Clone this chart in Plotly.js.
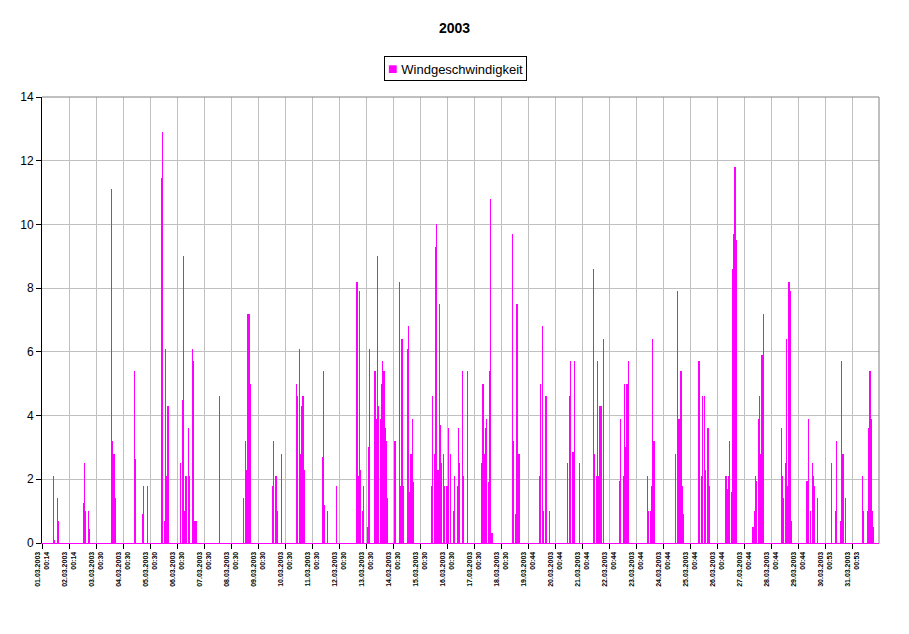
<!DOCTYPE html>
<html>
<head>
<meta charset="utf-8">
<script src="https://cdn.plot.ly/plotly-3.0.1.min.js"></script>
<style>html,body{margin:0;padding:0;background:#fff;}#chart{width:909px;height:634px;}</style>
</head>
<body>
<div id="chart"></div>
<script>
// Hours after the first reading of 01.03.2003 (one tick per day = 24 h)
const hours = [
  10,10.5,11.5,13.5,14,15,
  36.5,37.5,38,39,41,42,
  61.5,62,63,64,65,
  82.5,83.5,89,90,93.5,94,
  106.5,107.5,108.5,109.5,110,111,112,
  123.5,124.5,125.5,126,127,128,130,130.5,131.5,133.5,134,135,136,137,
  157.5,158,
  179.5,180.5,181.5,182,183,184,185,
  204.5,205.5,206,208,209,212.5,
  226,226.5,227.5,228.5,229.5,230,231,232,233,
  249,250,250.5,251.5,253.5,254,261.5,262,
  280,281,282,282.5,283.5,284.5,285.5,286,
  289,290,290.5,291.5,
  296,297,298,298.5,299.5,300.5,301.5,302,303,304,305,306,306.5,307.5,
  313,314,317.5,318,319,320,321,
  324.5,325.5,326,327,328,329,330,
  346,346.5,347.5,348.5,349.5,350,351,352,353,354,354.5,355.5,356.5,357.5,
  360,361,363.5,366,367,369,370,370.5,371.5,
  373.5,374,375,378,378.5,
  391,392,393,394,394.5,395.5,396.5,398,399,400,
  418,418.5,419.5,420.5,421.5,422,423,424,
  442.5,443.5,444.5,445.5,448,451.5,
  467.5,468.5,469.5,470,472,473,478,
  490,490.5,491.5,492.5,493.5,494,495,496,497,499.5,
  513,514,514.5,516.5,517.5,518,519,520,521,
  538.5,539.5,540.5,541.5,542,543,544,
  563.5,564.5,565.5,566,567,568,569,570,
  584,586,586.5,587.5,588.5,589.5,592,593,
  608,609,610,610.5,611.5,612.5,613.5,614,615,616,617,
  632,633,634,634.5,635.5,636.5,637.5,638,639,640,641,
  657,658,658.5,659.5,660.5,661.5,662,663,664,665,666,
  680,681,683.5,684.5,685.5,687,689,
  701.5,702,705,706,706.5,710,711,712,714,714.5,
  729,730,734,735,736,737,738,738.5,739.5
];
const speed = [
  2.1,1.0,0.1,0.5,1.4,0.7,
  1.25,2.5,2.1,1.0,1.0,0.45,
  11.1,5.5,3.2,2.8,1.4,
  5.4,2.65,0.9,1.8,0.9,1.8,
  11.45,12.9,0.7,5.0,6.1,2.1,4.3,
  2.5,4.5,9.0,3.7,1.0,2.1,1.8,3.6,2.1,6.1,3.4,5.7,0.7,0.7,
  4.6,4.3,
  1.4,3.2,1.8,2.3,7.2,7.2,5.0,
  1.8,3.2,2.1,2.1,1.0,2.8,
  1.0,5.0,4.6,6.1,2.8,2.8,4.3,4.6,2.3,
  2.7,5.4,2.5,1.2,0.5,1.0,0.9,1.8,
  8.2,2.1,3.2,7.9,2.3,1.0,1.4,1.8,
  0.5,1.0,3.0,6.1,
  5.4,3.9,9.0,4.5,4.3,3.9,1.9,5.0,5.7,5.4,3.6,3.2,2.8,1.4,
  3.2,3.2,4.1,8.2,1.8,6.4,1.8,
  6.1,6.8,3.2,1.6,2.8,3.9,1.9,
  1.8,0.9,4.6,2.8,9.3,6.4,10.0,2.3,7.5,3.7,2.8,2.5,2.8,1.8,
  1.8,3.6,2.8,1.0,2.1,1.8,3.6,2.1,2.5,
  5.4,3.4,2.1,3.7,5.4,
  2.5,5.0,2.8,3.6,2.5,3.9,1.9,5.4,10.8,0.3,
  1.9,9.7,3.2,0.9,7.5,5.3,7.5,2.8,
  2.1,5.0,6.8,1.0,4.6,1.0,
  2.5,4.6,2.85,5.7,2.85,5.7,2.5,
  8.6,1.4,2.8,2.1,2.5,5.7,2.1,4.3,4.3,6.4,
  1.95,3.9,3.2,2.1,2.5,5.0,3.0,5.0,5.7,
  2.1,1.0,1.0,1.8,1.8,6.4,3.2,
  2.8,7.9,3.9,2.45,3.9,5.4,1.8,0.9,
  5.7,2.1,1.8,4.6,4.6,2.3,3.6,1.8,
  2.1,1.7,1.0,2.1,3.2,1.6,8.6,4.8,9.7,11.8,9.5,
  0.5,1.0,2.1,1.8,1.95,3.9,2.3,4.6,2.8,5.9,7.2,
  3.6,1.8,2.1,1.4,2.5,6.4,6.4,1.8,8.2,7.9,0.7,
  1.95,3.9,1.0,2.5,2.1,1.8,1.4,
  1.25,2.5,1.0,1.6,3.2,0.7,5.7,2.8,1.4,0.7,
  2.1,1.0,1.0,3.6,5.4,3.9,1.0,0.5,0.5
];
const tickDates = [
  "01.03.2003","02.03.2003","03.03.2003","04.03.2003","05.03.2003","06.03.2003",
  "07.03.2003","08.03.2003","09.03.2003","10.03.2003","11.03.2003","12.03.2003",
  "13.03.2003","14.03.2003","15.03.2003","16.03.2003","17.03.2003","18.03.2003",
  "19.03.2003","20.03.2003","21.03.2003","22.03.2003","23.03.2003","24.03.2003",
  "25.03.2003","26.03.2003","27.03.2003","28.03.2003","29.03.2003","30.03.2003",
  "31.03.2003"
];
const tickTimes = [
  "00:14","00:14","00:30","00:30","00:30","00:30",
  "00:30","00:30","00:30","00:30","00:30","00:30",
  "00:30","00:30","00:30","00:30","00:30","00:30",
  "00:44","00:44","00:44","00:44","00:44","00:44",
  "00:44","00:44","00:44","00:44","00:44","00:53",
  "00:53"
];
const seriesName = "Windgeschwindigkeit";
const seriesColor = "#ff00ff";
const chartTitle = "2003";

const tickVals = tickDates.map((d, i) => i * 24);
const tickText = tickDates.map((d, i) => d + "<br>" + tickTimes[i]);

const trace = {
  type: "bar",
  name: seriesName,
  x: hours,
  y: speed,
  width: 0.9,
  marker: {color: seriesColor, line: {width: 0}},
  showlegend: false,
  hoverinfo: "x+y"
};

const layout = {
  width: 909, height: 634,
  margin: {l: 42, r: 30, t: 97, b: 91},
  paper_bgcolor: "#ffffff",
  plot_bgcolor: "#ffffff",
  font: {family: "Liberation Sans, Arial, sans-serif", color: "#000000"},
  title: {
    text: "<b>" + chartTitle + "</b>",
    font: {size: 14, family: "Liberation Sans, Arial, sans-serif", color: "#000"},
    x: 0.5, xanchor: "center", xref: "container",
    y: 0.956, yanchor: "middle", yref: "container"
  },
  showlegend: false,
  annotations: [{
    xref: "paper", yref: "paper",
    x: 0.494, xanchor: "center",
    y: 1.064, yanchor: "middle",
    showarrow: false,
    text: '<span style="color:' + seriesColor + ';font-size:16px">■</span> ' + seriesName,
    font: {size: 13, color: "#000", family: "Liberation Sans, Arial, sans-serif"},
    bordercolor: "#000000", borderwidth: 1, borderpad: 3, bgcolor: "#ffffff"
  }],
  xaxis: {
    type: "linear",
    range: [0, 744],
    tickmode: "array",
    tickvals: tickVals,
    ticktext: tickText,
    tickangle: -90,
    tickfont: {size: 7, weight: "bold", family: "Liberation Sans, Arial, sans-serif", color: "#000"},
    ticks: "outside", ticklen: 5, tickcolor: "#000", tickwidth: 1,
    showgrid: true, gridcolor: "#c0c0c0", gridwidth: 1,
    showline: true, linecolor: "#ff00ff", linewidth: 1,
    zeroline: false, fixedrange: true
  },
  yaxis: {
    range: [0, 14],
    tickmode: "linear", tick0: 0, dtick: 2,
    tickfont: {size: 12, color: "#000"},
    ticks: "outside", ticklen: 5, tickcolor: "#000", tickwidth: 1,
    showgrid: true, gridcolor: "#c0c0c0", gridwidth: 1,
    showline: true, linecolor: "#000000", linewidth: 1,
    zeroline: false, fixedrange: true
  },
  shapes: [
    {type: "line", xref: "paper", yref: "paper", x0: 0, x1: 1, y0: 1, y1: 1, line: {color: "#808080", width: 1}},
    {type: "line", xref: "paper", yref: "paper", x0: 1, x1: 1, y0: 0, y1: 1, line: {color: "#808080", width: 1}}
  ],
  bargap: 0
};

Plotly.newPlot("chart", [trace], layout, {displayModeBar: false, staticPlot: true});
</script>
</body>
</html>
